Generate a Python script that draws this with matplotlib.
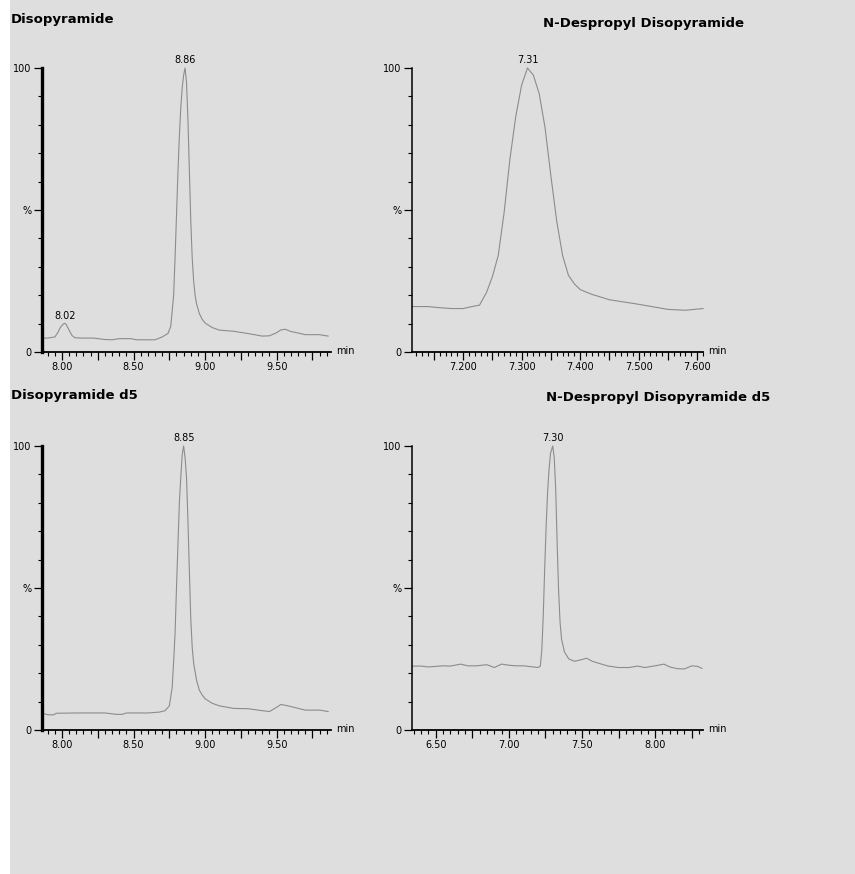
import matplotlib
matplotlib.use('Agg')
from matplotlib import pyplot as plt
from matplotlib.patches import Rectangle
from matplotlib.ticker import FixedLocator, MultipleLocator, FuncFormatter

plt.rcParams['font.family'] = ['DejaVu Sans']

# Disopyramide trace (min, % of base peak)
diso_t = [7.86, 7.90, 7.95, 7.97, 7.99, 8.01, 8.02, 8.03, 8.05, 8.07, 8.09,
          8.15, 8.22, 8.30, 8.35, 8.40, 8.48, 8.52, 8.65, 8.70, 8.74, 8.76,
          8.78, 8.79, 8.80, 8.81, 8.82, 8.83, 8.84, 8.85, 8.86, 8.87, 8.88,
          8.89, 8.90, 8.91, 8.92, 8.93, 8.94, 8.96, 8.98, 9.00, 9.05, 9.10,
          9.20, 9.30, 9.40, 9.45, 9.50, 9.53, 9.56, 9.60, 9.65, 9.70, 9.80, 9.86]
diso_y = [4.9, 4.9, 5.3, 6.8, 8.8, 9.9, 10.1, 9.6, 7.6, 5.8, 5.0,
          4.9, 4.9, 4.4, 4.3, 4.7, 4.7, 4.3, 4.3, 5.3, 6.5, 9.0,
          20.0, 33.0, 48.0, 63.0, 76.0, 86.0, 93.0, 97.5, 100.0, 95.0, 82.0,
          64.0, 46.0, 33.0, 25.0, 20.0, 17.0, 13.5, 11.5, 10.2, 8.6, 7.7,
          7.3, 6.5, 5.6, 5.7, 6.8, 7.8, 8.0, 7.2, 6.7, 6.1, 6.1, 5.6]

# N-Despropyl Disopyramide trace
ndp_t = [7.113, 7.14, 7.16, 7.18, 7.20, 7.215, 7.228, 7.24, 7.25, 7.26, 7.27,
         7.28, 7.29, 7.30, 7.31, 7.32, 7.33, 7.34, 7.35, 7.36, 7.37, 7.38,
         7.39, 7.40, 7.42, 7.45, 7.50, 7.55, 7.58, 7.61]
ndp_y = [16.0, 16.0, 15.6, 15.3, 15.3, 16.0, 16.5, 21.0, 26.5, 34.0, 49.0,
         68.0, 83.0, 94.0, 100.0, 97.5, 91.0, 79.0, 62.0, 46.0, 34.0, 27.0,
         24.0, 22.0, 20.3, 18.4, 16.8, 15.0, 14.7, 15.3]

# Disopyramide d5 trace
d5_t = [7.86, 7.90, 7.94, 7.96, 8.10, 8.30, 8.38, 8.42, 8.45, 8.60, 8.68,
        8.72, 8.75, 8.77, 8.78, 8.79, 8.80, 8.81, 8.82, 8.83, 8.84, 8.85,
        8.86, 8.87, 8.88, 8.89, 8.90, 8.91, 8.92, 8.94, 8.96, 8.98, 9.00,
        9.05, 9.10, 9.20, 9.30, 9.40, 9.45, 9.50, 9.53, 9.57, 9.62, 9.70,
        9.80, 9.86]
d5_y = [5.9, 5.4, 5.3, 5.9, 6.0, 6.0, 5.5, 5.5, 6.0, 6.0, 6.3,
        6.8, 8.5, 15.0, 24.0, 34.0, 50.0, 65.0, 80.0, 89.0, 97.0, 100.0,
        96.0, 89.0, 74.0, 56.0, 39.0, 29.0, 23.5, 17.6, 14.0, 12.3, 11.0,
        9.4, 8.5, 7.6, 7.5, 6.8, 6.5, 8.0, 9.0, 8.6, 8.0, 7.0,
        7.0, 6.5]

# N-Despropyl Disopyramide d5 trace
ndp5_t = [6.34, 6.40, 6.45, 6.50, 6.55, 6.60, 6.67, 6.72, 6.78, 6.85, 6.90,
          6.95, 7.00, 7.05, 7.10, 7.15, 7.20, 7.215, 7.225, 7.235, 7.245,
          7.255, 7.265, 7.275, 7.285, 7.30, 7.31, 7.32, 7.33, 7.34, 7.35,
          7.36, 7.38, 7.41, 7.45, 7.50, 7.53, 7.57, 7.62, 7.68, 7.75, 7.82,
          7.88, 7.93, 8.00, 8.06, 8.10, 8.15, 8.20, 8.25, 8.29, 8.32]
ndp5_y = [22.5, 22.5, 22.2, 22.4, 22.6, 22.5, 23.2, 22.6, 22.6, 23.0, 22.0,
          23.2, 22.8, 22.6, 22.6, 22.3, 22.0, 22.5, 28.0, 40.0, 57.0,
          72.0, 84.0, 92.0, 97.5, 100.0, 96.0, 85.0, 66.0, 49.0, 38.0,
          32.0, 27.5, 25.0, 24.2, 24.8, 25.3, 24.2, 23.4, 22.5, 22.0, 22.0,
          22.5, 22.0, 22.6, 23.2, 22.2, 21.6, 21.5, 22.6, 22.4, 21.7]

W, H = 855, 874
BG = '#dedede'

fig = plt.figure(figsize=(W / 100, H / 100), dpi=100)
fig.patch.set_facecolor('white')
fig.patches.append(Rectangle((10 / W, 0), 1, 1, transform=fig.transFigure,
                             facecolor=BG, edgecolor='none', zorder=-10))


def panel(box, t, y, xlim, major, minor, label_step, fmt, peaks, left_lw):
    x0, y0, x1, y1 = box
    ax = fig.add_axes([x0 / W, 1 - y1 / H, (x1 - x0) / W, (y1 - y0) / H])
    ax.patch.set_alpha(0)
    ax.plot(t, y, color='#8c8c8c', lw=0.8, clip_on=False)
    ax.set_xlim(*xlim)
    ax.set_ylim(0, 100)
    for s in ('top', 'right'):
        ax.spines[s].set_visible(False)
    ax.spines['left'].set_linewidth(left_lw)
    ax.spines['bottom'].set_linewidth(1.3)

    ax.set_yticks([0, 50, 100])
    ax.set_yticklabels(['0', '%', '100'])
    ax.yaxis.set_minor_locator(MultipleLocator(10))

    ax.xaxis.set_major_locator(MultipleLocator(major))
    ax.xaxis.set_minor_locator(MultipleLocator(minor))

    def lab(v, pos):
        k = v / label_step
        return fmt % v if abs(k - round(k)) < 1e-6 else ''
    ax.xaxis.set_major_formatter(FuncFormatter(lab))

    ax.tick_params(which='major', direction='out', length=6, width=0.9,
                   labelsize=7, pad=1.5)
    ax.tick_params(which='minor', direction='out', length=3, width=0.8)

    ax.annotate('min', xy=(1, 0), xycoords='axes fraction', xytext=(4, 1),
                textcoords='offset points', ha='left', va='center', fontsize=7)

    for p in peaks:
        v = y[t.index(p)]
        ax.annotate('%.2f' % p, xy=(p, v), xytext=(0, 2),
                    textcoords='offset points', ha='center', va='bottom',
                    fontsize=7)
    return ax


panel((42, 68, 331, 352), diso_t, diso_y, (7.86, 9.88), 0.25, 0.05, 0.5,
      '%.2f', [8.86, 8.02], 2.4)
panel((412, 68, 703, 352), ndp_t, ndp_y, (7.1126, 7.610), 0.05, 0.01, 0.1,
      '%.3f', [7.31], 1.1)
panel((42, 446, 331, 730), d5_t, d5_y, (7.86, 9.88), 0.25, 0.05, 0.5,
      '%.2f', [8.85], 2.4)
panel((412, 446, 703, 730), ndp5_t, ndp5_y, (6.338, 8.327), 0.25, 0.05, 0.5,
      '%.2f', [7.30], 1.1)

title_kw = dict(fontsize=9.5, fontweight='bold', va='center')
fig.text(11 / W, 1 - 19 / H, 'Disopyramide', ha='left', **title_kw)
fig.text(643 / W, 1 - 24 / H, 'N-Despropyl Disopyramide', ha='center', **title_kw)
fig.text(11 / W, 1 - 396 / H, 'Disopyramide d5', ha='left', **title_kw)
fig.text(658 / W, 1 - 398 / H, 'N-Despropyl Disopyramide d5', ha='center', **title_kw)

fig.savefig('out.png', dpi=100, facecolor=fig.get_facecolor())
